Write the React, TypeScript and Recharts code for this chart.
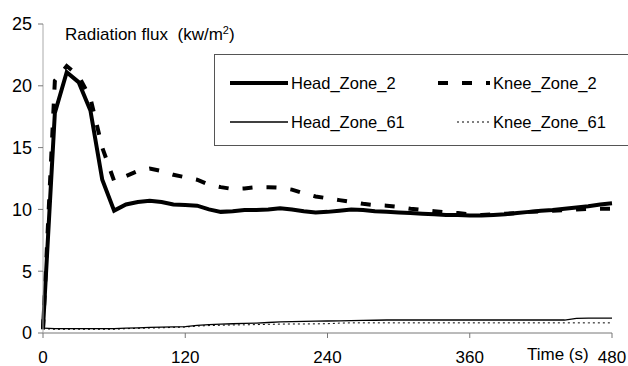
import React from 'react';
import { LineChart, Line, XAxis, YAxis, Legend, Customized } from 'recharts';

const times = [0,10,20,30,40,50,60,70,80,90,100,110,120,130,140,150,160,170,180,190,200,210,220,230,240,250,260,270,280,290,300,310,320,330,340,350,360,370,380,390,400,410,420,430,440,450,460,470,480];
const headZone2 = [0.4,17.8,21.1,20.3,18.0,12.4,9.9,10.4,10.6,10.7,10.6,10.4,10.35,10.3,10.0,9.8,9.85,9.95,9.95,10.0,10.1,10.0,9.85,9.75,9.8,9.9,10.0,9.95,9.85,9.8,9.75,9.7,9.65,9.6,9.55,9.55,9.5,9.5,9.55,9.6,9.7,9.8,9.9,9.95,10.05,10.15,10.25,10.4,10.5];
const kneeZone2 = [0.3,20.4,21.6,20.8,19.0,15.0,12.3,12.7,13.1,13.3,13.1,12.8,12.6,12.4,12.0,11.8,11.65,11.7,11.8,11.8,11.75,11.6,11.3,11.05,10.9,10.75,10.6,10.45,10.35,10.3,10.2,10.05,9.95,9.85,9.75,9.7,9.6,9.55,9.6,9.65,9.7,9.8,9.85,9.9,9.95,10.0,10.05,10.05,10.05];
const headZone61 = [0.4,0.35,0.35,0.35,0.35,0.35,0.35,0.4,0.42,0.45,0.48,0.5,0.52,0.62,0.68,0.72,0.75,0.78,0.8,0.85,0.9,0.92,0.94,0.96,0.97,0.98,1.0,1.02,1.03,1.05,1.05,1.05,1.05,1.05,1.05,1.05,1.05,1.05,1.05,1.05,1.05,1.05,1.05,1.05,1.05,1.18,1.2,1.2,1.2];
const kneeZone61 = [0.35,0.3,0.3,0.3,0.3,0.3,0.3,0.35,0.38,0.4,0.42,0.45,0.48,0.56,0.6,0.63,0.65,0.66,0.68,0.7,0.72,0.73,0.73,0.74,0.75,0.8,0.82,0.82,0.82,0.82,0.82,0.82,0.82,0.82,0.82,0.82,0.82,0.82,0.82,0.82,0.82,0.82,0.82,0.82,0.82,0.82,0.82,0.82,0.82];
const xTicks = [0, 120, 240, 360, 480];
const yTicks = [0, 5, 10, 15, 20, 25];

const data = times.map((t, i) => ({
  t,
  Head_Zone_2: headZone2[i],
  Knee_Zone_2: kneeZone2[i],
  Head_Zone_61: headZone61[i],
  Knee_Zone_61: kneeZone61[i],
}));

const FONT = '"Liberation Sans", Arial, sans-serif';

const legendItems = [
  { name: 'Head_Zone_2', left: 16, top: 29, w: 58, sw: 4, dash: undefined as string | undefined },
  { name: 'Knee_Zone_2', left: 224, top: 29, w: 52, sw: 4, dash: '10 14' },
  { name: 'Head_Zone_61', left: 16, top: 68, w: 58, sw: 1.3, dash: undefined },
  { name: 'Knee_Zone_61', left: 243, top: 68, w: 33, sw: 1, dash: '2 3' },
];

const LegendBox = () => (
  <div
    style={{
      position: 'relative',
      width: 414,
      height: 92,
      boxSizing: 'border-box',
      border: '1px solid #555',
      borderRight: 'none',
      background: '#fff',
      fontFamily: FONT,
      fontSize: 16.5,
      color: '#000',
    }}
  >
    {legendItems.map((it) => (
      <div
        key={it.name}
        style={{ position: 'absolute', left: it.left - 1, top: it.top - 1 - 10, height: 20, display: 'flex', alignItems: 'center' }}
      >
        <svg width={it.w} height={20} style={{ display: 'block' }}>
          <line x1={0} y1={10} x2={it.w} y2={10} stroke="#000" strokeWidth={it.sw} strokeDasharray={it.dash} />
        </svg>
        <span style={{ marginLeft: 3, whiteSpace: 'nowrap', lineHeight: '20px' }}>{it.name}</span>
      </div>
    ))}
  </div>
);

const Texts = () => (
  <g>
    <text x={65} y={40} fontFamily={FONT} fontSize={17} fill="#000">
      Radiation flux{'\u00a0\u00a0'}(kw/m<tspan dy={-6} fontSize={11}>2</tspan><tspan dy={6}>)</tspan>
    </text>
    <text x={527} y={360} fontFamily={FONT} fontSize={17} fill="#000">Time (s)</text>
  </g>
);

export default function App() {
  return (
    <div style={{ position: 'absolute', left: 0, top: 0, width: 628, height: 366, background: '#fff' }}>
      <LineChart width={628} height={366} data={data} margin={{ top: 24, right: 16, bottom: 0, left: 0 }}>
        <XAxis
          dataKey="t"
          type="number"
          domain={[0, 480]}
          ticks={xTicks}
          height={33}
          tickSize={5}
          tickMargin={13}
          axisLine={{ stroke: '#777' }}
          tickLine={{ stroke: '#777' }}
          tick={{ fill: '#000', fontSize: 17, fontFamily: FONT }}
          interval={0}
        />
        <YAxis
          type="number"
          domain={[0, 25]}
          ticks={yTicks}
          width={43}
          tickSize={5}
          tickMargin={6}
          axisLine={{ stroke: '#aaa' }}
          tickLine={{ stroke: '#777' }}
          tick={{ fill: '#000', fontSize: 18, fontFamily: FONT }}
          interval={0}
        />
        <Line type="linear" dataKey="Head_Zone_61" stroke="#000" strokeWidth={1.3} dot={false} isAnimationActive={false} />
        <Line type="linear" dataKey="Knee_Zone_61" stroke="#000" strokeWidth={1} strokeDasharray="2 3" dot={false} isAnimationActive={false} />
        <Line type="linear" dataKey="Knee_Zone_2" stroke="#000" strokeWidth={4} strokeDasharray="10 14" dot={false} isAnimationActive={false} />
        <Line type="linear" dataKey="Head_Zone_2" stroke="#000" strokeWidth={4} dot={false} isAnimationActive={false} />
        <Legend
          layout="vertical"
          align="center"
          verticalAlign="middle"
          content={() => <LegendBox />}
          wrapperStyle={{ left: 214, top: 54, width: 414, height: 92 }}
        />
        <Customized component={Texts} />
      </LineChart>
    </div>
  );
}
